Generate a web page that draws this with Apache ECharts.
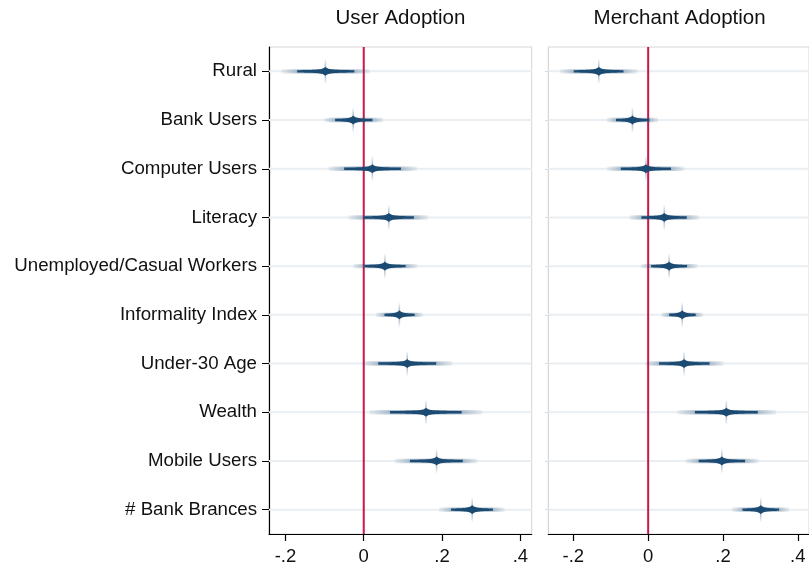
<!DOCTYPE html>
<html><head><meta charset="utf-8">
<script src="https://cdn.jsdelivr.net/npm/echarts@6/dist/echarts.min.js"></script>
<style>html,body{margin:0;padding:0;background:#fff}#c{width:809px;height:567px}</style>
</head><body><div id="c"></div>
<script>
const categories = ['Rural','Bank Users','Computer Users','Literacy','Unemployed/Casual Workers','Informality Index','Under-30 Age','Wealth','Mobile Users','# Bank Brances'];
const panelTitles = ['User Adoption','Merchant Adoption'];
const tickValues = [-0.2, 0, 0.2, 0.4];
const tickLabels = ['-.2', '0', '.2', '.4'];
const referenceLine = 0;

// User Adoption
const userEst     = [-0.098,-0.027, 0.022, 0.064, 0.054, 0.091, 0.111, 0.159, 0.186, 0.277];
const userOuterLo = [-0.211,-0.101,-0.090,-0.039,-0.027, 0.031,-0.004, 0.014, 0.079, 0.192];
const userOuterHi = [ 0.016, 0.049, 0.136, 0.165, 0.137, 0.151, 0.226, 0.303, 0.291, 0.360];
const userInnerLo = [-0.170,-0.073,-0.050, 0.000, 0.002, 0.053, 0.037, 0.067, 0.118, 0.223];
const userInnerHi = [-0.024, 0.022, 0.095, 0.128, 0.107, 0.130, 0.185, 0.250, 0.253, 0.330];

// Merchant Adoption
const merchEst     = [-0.132,-0.042,-0.006, 0.043, 0.056, 0.091, 0.096, 0.209, 0.197, 0.301];
const merchOuterLo = [-0.236,-0.110,-0.110,-0.050,-0.020, 0.035,-0.008, 0.078, 0.100, 0.224];
const merchOuterHi = [-0.027, 0.027, 0.097, 0.137, 0.132, 0.147, 0.202, 0.342, 0.295, 0.377];
const merchInnerLo = [-0.199,-0.086,-0.073,-0.018, 0.008, 0.056, 0.029, 0.125, 0.135, 0.252];
const merchInnerHi = [-0.066, 0.003, 0.061, 0.103, 0.104, 0.127, 0.164, 0.293, 0.259, 0.350];

const FONT = '"Liberation Sans", Arial, sans-serif';
const NAVY = [27, 74, 115];
function rgba(a){ return 'rgba(' + NAVY[0] + ',' + NAVY[1] + ',' + NAVY[2] + ',' + a + ')'; }
function clamp01(v){ return Math.max(0, Math.min(1, v)); }

function renderRowLine(params, api){
  const cs = params.coordSys;
  const y = api.coord([0, api.value(1)])[1];
  return {type:'rect', shape:{x:cs.x, y:y-1, width:cs.width, height:2}, style:{fill:'#e9eef2'}};
}
function renderRefLine(params, api){
  const cs = params.coordSys;
  const x = api.coord([api.value(0), 0])[0];
  return {type:'rect', shape:{x:x-1, y:cs.y, width:2, height:cs.height}, style:{fill:'#c8174a'}};
}
function renderMarker(params, api){
  const cat = api.value(0);
  const p = api.coord([api.value(1), cat]);
  const xe = p[0], y = p[1];
  const xoL = api.coord([api.value(2), cat])[0], xoH = api.coord([api.value(3), cat])[0];
  const xiL = api.coord([api.value(4), cat])[0], xiH = api.coord([api.value(5), cat])[0];
  const children = [];
  const w = xoH - xoL;
  let fL = clamp01((xiL - xoL) / w), fE = clamp01((xe - xoL) / w), fH = clamp01((xiH - xoL) / w);
  fE = Math.max(fE, fL); fH = Math.max(fH, fE);
  children.push({type:'rect', shape:{x:xoL, y:y-2.2, width:w, height:4.4},
    style:{fill:new echarts.graphic.LinearGradient(0,0,1,0,[
      {offset:0, color:rgba(0.06)}, {offset:fL, color:rgba(0.32)}, {offset:fE, color:rgba(0.5)},
      {offset:fH, color:rgba(0.32)}, {offset:1, color:rgba(0.06)}])}});
  children.push({type:'rect', shape:{x:xe-0.8, y:y-13, width:1.6, height:26},
    style:{fill:new echarts.graphic.LinearGradient(0,0,0,1,[
      {offset:0, color:rgba(0)}, {offset:0.5, color:rgba(0.55)}, {offset:1, color:rgba(0)}])}});
  const N = 40;
  const half = function(d, L){ const r = 1 - d / Math.max(L, 1); return 1.2 + 1.0 * r * r + 2.3 * Math.exp(-d / 2.6); };
  const top = [], bot = [];
  const LL = Math.max(xe - xiL, 0), LR = Math.max(xiH - xe, 0);
  for (let k = 0; k <= N; k++) {
    const t = 1 - k / N; const d = LL * t * t; const x = xe - d; const h = half(d, LL);
    top.push([x, y - h]); bot.push([x, y + h]);
  }
  for (let k = 1; k <= N; k++) {
    const t = k / N; const d = LR * t * t; const x = xe + d; const h = half(d, LR);
    top.push([x, y - h]); bot.push([x, y + h]);
  }
  const pts = top.concat(bot.reverse());
  children.push({type:'polygon', shape:{points:pts}, style:{fill:rgba(1)}});
  return {type:'group', children:children};
}

function markerData(est, oLo, oHi, iLo, iHi){
  return categories.map(function(c, i){ return [i, est[i], oLo[i], oHi[i], iLo[i], iHi[i]]; });
}

const grids = [
  {left:269, top:47, width:262.7, height:487, show:true, borderColor:'#d6d6d6', borderWidth:1},
  {left:548.3, top:47, width:262.6, height:487, show:true, borderColor:'#d6d6d6', borderWidth:1}
];
const xRanges = [[-0.242, 0.429], [-0.267, 0.43]];

function xAxisFor(i){
  return {type:'value', gridIndex:i, min:xRanges[i][0], max:xRanges[i][1],
    axisLine:{show:true, onZero:false, lineStyle:{color:'#000', width:1.2}},
    axisTick:{show:true, customValues:tickValues, length:7, lineStyle:{color:'#000', width:1.2}},
    axisLabel:{customValues:tickValues, fontSize:18.5, color:'#111', fontFamily:FONT, margin:13,
      formatter:function(v){ const j = tickValues.findIndex(function(t){ return Math.abs(t - v) < 1e-9; }); return j >= 0 ? tickLabels[j] : ''; }},
    splitLine:{show:false}};
}
function yAxisFor(i){
  const left = i === 0;
  return {type:'category', gridIndex:i, data:categories, inverse:true, boundaryGap:true, position:'left',
    axisLine:{show:true, onZero:false, lineStyle:{color:left ? '#000' : '#d6d6d6', width:left ? 1.2 : 1}},
    axisTick:{show:true, alignWithLabel:true, length:left ? 7 : 3, lineStyle:{color:left ? '#000' : '#d6d6d6'}},
    axisLabel:{show:left, fontSize:18.7, color:'#111', fontFamily:FONT, margin:12},
    splitLine:{show:false}};
}

const rowData = categories.map(function(c, i){ return [0, i]; });
const series = [];
[[userEst,userOuterLo,userOuterHi,userInnerLo,userInnerHi],[merchEst,merchOuterLo,merchOuterHi,merchInnerLo,merchInnerHi]].forEach(function(s, i){
  series.push({type:'custom', xAxisIndex:i, yAxisIndex:i, z:1, silent:true, data:rowData, encode:{x:0, y:1}, renderItem:renderRowLine});
  series.push({type:'custom', xAxisIndex:i, yAxisIndex:i, z:2, silent:true, data:[[referenceLine, 0]], encode:{x:0, y:1}, renderItem:renderRefLine});
  series.push({type:'custom', xAxisIndex:i, yAxisIndex:i, z:3, silent:true, data:markerData(s[0],s[1],s[2],s[3],s[4]), encode:{x:[1,2,3,4,5], y:0}, renderItem:renderMarker});
});

const chart = echarts.init(document.getElementById('c'), null, {renderer:'canvas'});
chart.setOption({
  animation:false,
  backgroundColor:'#fff',
  grid:grids,
  xAxis:[xAxisFor(0), xAxisFor(1)],
  yAxis:[yAxisFor(0), yAxisFor(1)],
  graphic:[
    {type:'text', x:400.4, y:18, style:{text:panelTitles[0], fontSize:20.5, fontFamily:FONT, fill:'#111', align:'center', verticalAlign:'middle'}},
    {type:'text', x:679.6, y:18, style:{text:panelTitles[1], fontSize:20.5, fontFamily:FONT, fill:'#111', align:'center', verticalAlign:'middle'}}
  ],
  series:series
});
</script></body></html>
